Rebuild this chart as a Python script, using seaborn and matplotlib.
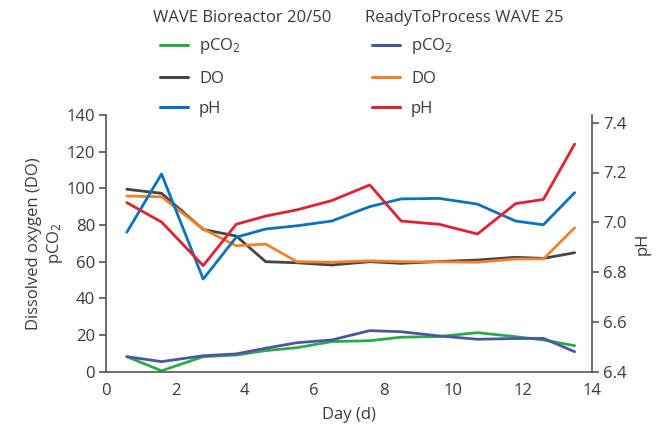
import matplotlib
matplotlib.use("Agg")
import matplotlib.pyplot as plt
import seaborn as sns
import numpy as np

# ---- data ----
day = [0.6, 1.6, 2.8, 3.75, 4.6, 5.5, 6.5, 7.6, 8.5, 9.6, 10.7, 11.8, 12.6, 13.5]

wave2050_pco2 = [8.2, 0.5, 8.2, 9.1, 11.5, 13.1, 16.4, 16.9, 18.8, 19.2, 21.3, 19.1, 17.3, 14.2]
wave2050_do = [99.5, 97.3, 77.6, 74.0, 60.0, 59.4, 58.2, 60.0, 59.1, 60.1, 60.9, 62.4, 61.8, 64.9]
wave2050_ph = [6.960, 7.194, 6.772, 6.940, 6.973, 6.986, 7.005, 7.063, 7.094, 7.096, 7.073, 7.005, 6.990, 7.119]

rtp25_pco2 = [8.2, 5.5, 8.7, 9.7, 12.8, 15.8, 17.3, 22.4, 21.8, 19.5, 17.7, 18.1, 18.2, 10.9]
rtp25_do = [95.8, 95.4, 77.8, 68.7, 69.6, 60.0, 59.7, 60.5, 60.0, 59.9, 59.7, 61.5, 61.5, 78.5]
rtp25_ph = [7.079, 7.001, 6.826, 6.992, 7.025, 7.050, 7.087, 7.150, 7.005, 6.992, 6.953, 7.075, 7.092, 7.314]

x_ticks = [0, 2, 4, 6, 8, 10, 12, 14]
y_ticks = [0, 20, 40, 60, 80, 100, 120, 140]
ph_ticks = [6.4, 6.6, 6.8, 7.0, 7.2, 7.4]

group_titles = ["WAVE Bioreactor 20/50", "ReadyToProcess WAVE 25"]
series_labels = ["pCO$_2$", "DO", "pH"]

# ---- style ----
sns.set_theme(style="white")
FONT = "Open Sans"
plt.rcParams["font.family"] = [FONT, "DejaVu Sans"]
plt.rcParams["mathtext.fontset"] = "custom"
plt.rcParams["mathtext.rm"] = FONT
plt.rcParams["mathtext.it"] = FONT
TXT = "#3a3a3a"
SP = "#555555"

c_green = "#2bab48"
c_black = "#454545"
c_blue = "#0b72bb"
c_navy = "#4b56a3"
c_orange = "#f5802a"
c_red = "#e0212f"

fig = plt.figure(figsize=(6.64, 4.33), dpi=100)
ax = fig.add_axes([106 / 664, 1 - 371.7 / 433, (592 - 106) / 664, (371.7 - 115) / 433])
ax2 = ax.twinx()

lw = 2.0
sns.lineplot(x=day, y=wave2050_pco2, ax=ax, color=c_green, lw=lw)
sns.lineplot(x=day, y=rtp25_pco2, ax=ax, color=c_navy, lw=lw)
sns.lineplot(x=day, y=wave2050_do, ax=ax, color=c_black, lw=lw)
sns.lineplot(x=day, y=rtp25_do, ax=ax, color=c_orange, lw=lw)
sns.lineplot(x=day, y=wave2050_ph, ax=ax2, color=c_blue, lw=lw)
sns.lineplot(x=day, y=rtp25_ph, ax=ax2, color=c_red, lw=lw)

ax.set_xlim(0, 14)
ax.set_ylim(0, 140)
ph_top = 6.4 + (371.7 - 115) / 249
ax2.set_ylim(6.4, ph_top)
ax.set_xticks(x_ticks)
ax.set_yticks(y_ticks)
ax2.set_yticks(ph_ticks)
ax2.set_yticklabels([f"{v:.1f}" for v in ph_ticks])

for a in (ax, ax2):
    for s in a.spines.values():
        s.set_color(SP)
        s.set_linewidth(1.2)
    a.spines["top"].set_visible(False)
    a.tick_params(colors=TXT, labelsize=12, length=5, width=1.2, color=SP, direction="out", pad=3)
ax.spines["right"].set_visible(False)
ax2.spines["left"].set_visible(False)
ax2.spines["bottom"].set_visible(False)

ax.set_xlabel("Day (d)", fontsize=12, color=TXT, labelpad=6)
ax.set_ylabel("Dissolved oxygen (DO)\npCO$_2$", fontsize=12, color=TXT, labelpad=1, linespacing=1.2)
ax2.set_ylabel("pH", fontsize=12, color=TXT, labelpad=6)

# ---- legends ----
from matplotlib.lines import Line2D
cols = [
    (153, 160, [c_green, c_black, c_blue]),
    (365, 372, [c_navy, c_orange, c_red]),
]
for (tx, lx, colors), title in zip(cols, group_titles):
    fig.text(tx / 664, 1 - 18 / 433, title, fontsize=12, color=TXT, va="center", ha="left")
    handles = [Line2D([], [], color=c, lw=2.2) for c in colors]
    leg = fig.legend(handles, series_labels, loc="upper left",
                     bbox_to_anchor=(lx / 664, 1 - 36.5 / 433), frameon=False,
                     fontsize=12, handlelength=1.68, handletextpad=0.66,
                     labelspacing=0.85, borderpad=0, borderaxespad=0)
    for t in leg.get_texts():
        t.set_color(TXT)

fig.savefig("out.png", dpi=100)
